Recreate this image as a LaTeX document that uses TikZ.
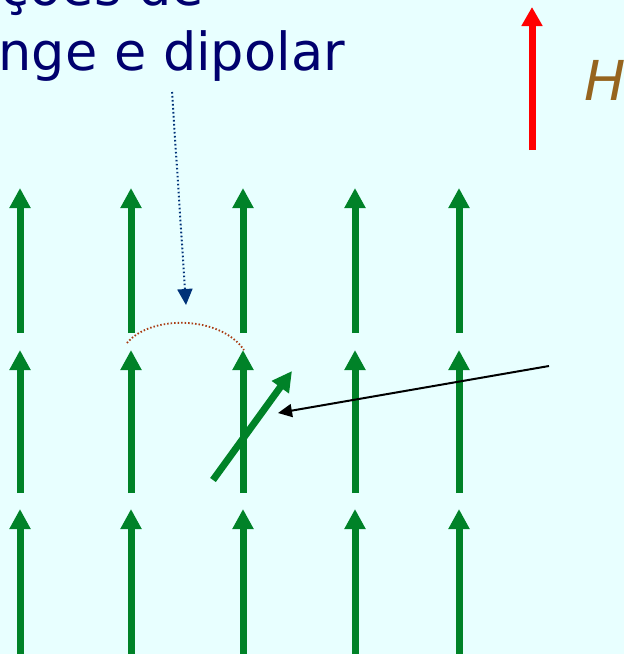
\documentclass[tikz,border=0pt]{standalone}
\usepackage{fontspec}
\setmainfont{DejaVu Sans}
\usetikzlibrary{arrows.meta}
\definecolor{bgcyan}{RGB}{232,255,255}
\definecolor{spingreen}{RGB}{0,130,40}
\definecolor{textnavy}{RGB}{0,0,110}
\definecolor{fieldbrown}{RGB}{150,100,30}
\definecolor{arcbrown}{RGB}{170,60,20}
\definecolor{dotnavy}{RGB}{0,50,120}
\begin{document}
\begin{tikzpicture}[x=1pt,y=-1pt,
  spin/.style={spingreen,line width=7pt,-{Triangle[width=20pt,length=20pt]}},
  caption/.style={textnavy,anchor=base east,inner sep=0,font=\fontsize{52.5}{60}\selectfont}]
  \fill[bgcyan] (0,0) rectangle (624,654);
  \useasboundingbox (0,0) rectangle (624,654);
  \clip (0,0) rectangle (624,654);
  \foreach \x in {20,131,243,355,459}
    \foreach \t/\b in {188/333,350/493,509/660}
      \draw[spin] (\x,\b) -- (\x,\t);
  \node[caption] (top1) at (204,5) {ações de};
  \node[caption] (top2) at (345,70) {nge e dipolar};
  \draw[red,line width=7pt,-{Triangle[width=20pt,length=19pt]}] (532,150) -- (532,7);
  \node[fieldbrown,anchor=base west,inner sep=0,font=\fontsize{55}{60}\selectfont\itshape] (field) at (584,100) {H};
  \coordinate (dotstart) at (172,92);
  \coordinate (dotend) at (186,305);
  \draw[dotnavy,line width=2pt,dash pattern=on 1.6pt off 2.4pt,-{Triangle[width=15pt,length=16pt]}] (dotstart) -- (dotend);
  \draw[arcbrown,line width=1.8pt,dash pattern=on 1.5pt off 2pt] (127,343) .. controls (150,315) and (220,315) .. (244,350);
  \draw[spin] (213,480) -- (292,371);
  \coordinate (pointer) at (549,366);
  \coordinate (tilted) at (278,413);
  \draw[line width=2pt,-{Triangle[width=13pt,length=14pt]}] (pointer) -- (tilted);
\end{tikzpicture}
\end{document}
